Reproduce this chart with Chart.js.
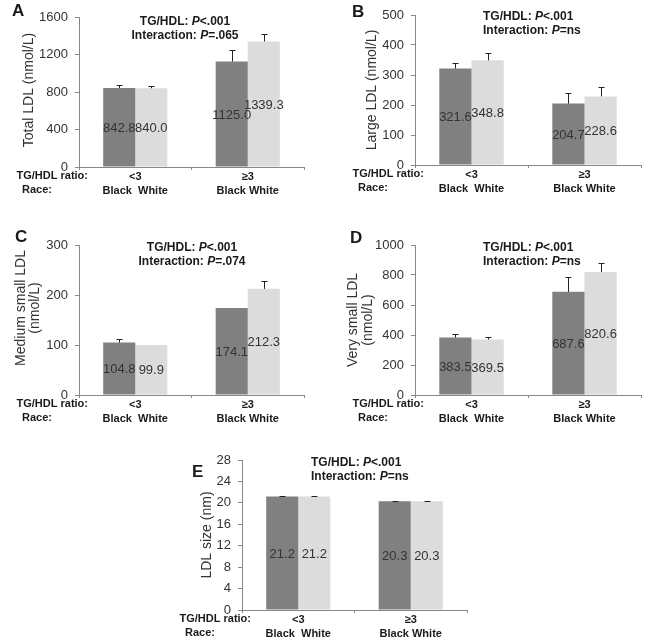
<!DOCTYPE html>
<html><head><meta charset="utf-8">
<script src="https://cdn.jsdelivr.net/npm/chart.js@4/dist/chart.umd.min.js"></script>
<style>
html,body{margin:0;padding:0;background:#fff;}
#wrap{position:relative;width:650px;height:643px;overflow:hidden;}
canvas{position:absolute;}
</style></head><body>
<div id="wrap">
<canvas id="cA" style="left:0;top:0"></canvas>
<canvas id="cB" style="left:325px;top:0"></canvas>
<canvas id="cC" style="left:0;top:220px"></canvas>
<canvas id="cD" style="left:325px;top:220px"></canvas>
<canvas id="cE" style="left:170px;top:445px"></canvas>
</div>
<script>
// ---- data ----
const categories = ["<3", "≥3"];
const races = ["Black", "White"];

const totalBlack = [842.8, 1125.0];
const totalWhite = [840.0, 1339.3];
const totalBlackErr = [30, 123];
const totalWhiteErr = [25, 76];

const largeBlack = [321.6, 204.7];
const largeWhite = [348.8, 228.6];
const largeBlackErr = [20, 35];
const largeWhiteErr = [24, 31];

const medBlack = [104.8, 174.1];
const medWhite = [99.9, 212.3];
const medBlackErr = [6.5, 0];
const medWhiteErr = [0, 16];

const vsBlack = [383.5, 687.6];
const vsWhite = [369.5, 820.6];
const vsBlackErr = [23.5, 97];
const vsWhiteErr = [15.5, 57];

const sizeBlack = [21.2, 20.3];
const sizeWhite = [21.2, 20.3];
const sizeBlackErr = [0.12, 0.12];
const sizeWhiteErr = [0.12, 0.1];

const pTG = "<.001";
const pInteraction = [".065", "ns", ".074", "ns", "ns"];

const FONT = '"Liberation Sans", Arial, sans-serif';
const DARK = '#808080', LIGHT = '#dcdcdc';

const panels = [
  {id:'cA', letter:'A', title:['Total LDL (nmol/L)'], black:totalBlack, white:totalWhite, bErr:totalBlackErr, wErr:totalWhiteErr, max:1600, step:400, pInt:pInteraction[0],
   W:325, H:215, area:{l:79,t:17,r:304,b:167}, letterPos:[12,3], annot:{x:185,y:22,align:'center'}, titleX:[29], titleY:90},
  {id:'cB', letter:'B', title:['Large LDL (nmol/L)'], black:largeBlack, white:largeWhite, bErr:largeBlackErr, wErr:largeWhiteErr, max:500, step:100, pInt:pInteraction[1],
   W:325, H:215, area:{l:90,t:15,r:316,b:165}, letterPos:[27,4], annot:{x:158,y:17,align:'left'}, titleX:[47], titleY:90},
  {id:'cC', letter:'C', title:['Medium small LDL','(nmol/L)'], black:medBlack, white:medWhite, bErr:medBlackErr, wErr:medWhiteErr, max:300, step:100, pInt:pInteraction[2],
   W:325, H:223, area:{l:79,t:25,r:304,b:175}, letterPos:[15,9], annot:{x:192,y:28,align:'center'}, titleX:[21,35], titleY:88},
  {id:'cD', letter:'D', title:['Very small LDL','(nmol/L)'], black:vsBlack, white:vsWhite, bErr:vsBlackErr, wErr:vsWhiteErr, max:1000, step:200, pInt:pInteraction[3],
   W:325, H:223, area:{l:90,t:25,r:316,b:175}, letterPos:[25,10], annot:{x:158,y:28,align:'left'}, titleX:[28,43], titleY:100},
  {id:'cE', letter:'E', title:['LDL size (nm)'], black:sizeBlack, white:sizeWhite, bErr:sizeBlackErr, wErr:sizeWhiteErr, max:28, step:4, pInt:pInteraction[4],
   W:320, H:198, area:{l:72,t:15,r:297,b:165}, letterPos:[22,19], annot:{x:141,y:18,align:'left'}, titleX:[37], titleY:90}
];

function drawRich(c, parts, x, y, align) {
  let total = 0;
  parts.forEach(p => { c.font = p[1] + ' 12px ' + FONT; total += c.measureText(p[0]).width; });
  let cx = align === 'center' ? x - total / 2 : x;
  c.textAlign = 'left'; c.textBaseline = 'middle';
  parts.forEach(p => { c.font = p[1] + ' 12px ' + FONT; c.fillText(p[0], cx, y); cx += c.measureText(p[0]).width; });
}

function makeChart(p) {
  const cv = document.getElementById(p.id);
  cv.width = p.W; cv.height = p.H;
  cv.style.width = p.W + 'px'; cv.style.height = p.H + 'px';
  const deco = {
    id: 'deco' + p.letter,
    afterDatasetsDraw(chart) {
      const c = chart.ctx, ys = chart.scales.y;
      const errs = [p.bErr, p.wErr];
      c.save();
      chart.data.datasets.forEach((ds, i) => {
        chart.getDatasetMeta(i).data.forEach((bar, j) => {
          const e = errs[i][j];
          if (e > 0) {
            const yTop = Math.round(ys.getPixelForValue(ds.data[j] + e)) + 0.5;
            const bx = Math.round(bar.x) + 0.5;
            c.strokeStyle = '#222'; c.lineWidth = 1;
            c.beginPath();
            c.moveTo(bx, bar.y); c.lineTo(bx, yTop);
            c.moveTo(bx - 3, yTop); c.lineTo(bx + 3, yTop);
            c.stroke();
          }
        });
      });
      c.font = '13px ' + FONT; c.fillStyle = '#333'; c.textAlign = 'center'; c.textBaseline = 'middle';
      chart.data.datasets.forEach((ds, i) => {
        chart.getDatasetMeta(i).data.forEach((bar, j) => {
          c.fillText(ds.data[j].toFixed(1), bar.x, (bar.y + bar.base) / 2 + 1);
        });
      });
      c.restore();
    },
    afterDraw(chart) {
      const c = chart.ctx, a = chart.chartArea;
      c.save();
      c.fillStyle = '#1a1a1a';
      c.font = 'bold 17px ' + FONT; c.textAlign = 'left'; c.textBaseline = 'top';
      c.fillText(p.letter, p.letterPos[0], p.letterPos[1]);
      drawRich(c, [['TG/HDL: ', 'bold'], ['P', 'italic bold'], [pTG, 'bold']], p.annot.x, p.annot.y, p.annot.align);
      drawRich(c, [['Interaction: ', 'bold'], ['P', 'italic bold'], ['=' + p.pInt, 'bold']], p.annot.x, p.annot.y + 14, p.annot.align);
      // y title
      c.fillStyle = '#333'; c.font = '14px ' + FONT; c.textAlign = 'center'; c.textBaseline = 'middle';
      p.title.forEach((t, k) => {
        c.save(); c.translate(p.titleX[k], p.titleY); c.rotate(-Math.PI / 2); c.fillText(t, 0, 0); c.restore();
      });
      // row labels
      c.fillStyle = '#1a1a1a'; c.font = 'bold 11px ' + FONT; c.textBaseline = 'middle';
      c.textAlign = 'right'; c.fillText('TG/HDL ratio:', a.left + 9, a.bottom + 9);
      c.textAlign = 'left'; c.fillText('Race:', a.left - 57, a.bottom + 23);
      c.restore();
    }
  };
  return new Chart(cv, {
    type: 'bar',
    data: {
      labels: categories,
      datasets: [
        {label: races[0], data: p.black, backgroundColor: DARK, barPercentage: 1.0, categoryPercentage: 0.57},
        {label: races[1], data: p.white, backgroundColor: LIGHT, barPercentage: 1.0, categoryPercentage: 0.57}
      ]
    },
    options: {
      responsive: false, animation: false, devicePixelRatio: 1,
      layout: {padding: {left: 0, top: p.area.t, right: p.W - p.area.r, bottom: 0}},
      plugins: {legend: {display: false}, tooltip: {enabled: false}},
      scales: {
        x: {
          afterFit(s) { s.height = p.H - p.area.b; },
          grid: {display: true, drawOnChartArea: false, drawTicks: true, tickLength: 3, color: '#888', offset: true},
          border: {display: true, color: '#888'},
          ticks: {
            padding: 0, maxRotation: 0, autoSkip: false, color: '#1a1a1a',
            font: {family: FONT, size: 11, weight: 'bold', lineHeight: 1.25},
            callback: (v, i) => [categories[i], races.join(i === 0 ? '  ' : ' ')]
          }
        },
        y: {
          min: 0, max: p.max,
          afterFit(s) { s.width = p.area.l; },
          grid: {display: true, drawOnChartArea: false, drawTicks: true, tickLength: 4, color: '#888'},
          border: {display: true, color: '#888'},
          ticks: {stepSize: p.step, padding: 7, color: '#333', font: {family: FONT, size: 13}, callback: v => String(v)}
        }
      }
    },
    plugins: [deco]
  });
}
panels.forEach(makeChart);
</script>
</body></html>
